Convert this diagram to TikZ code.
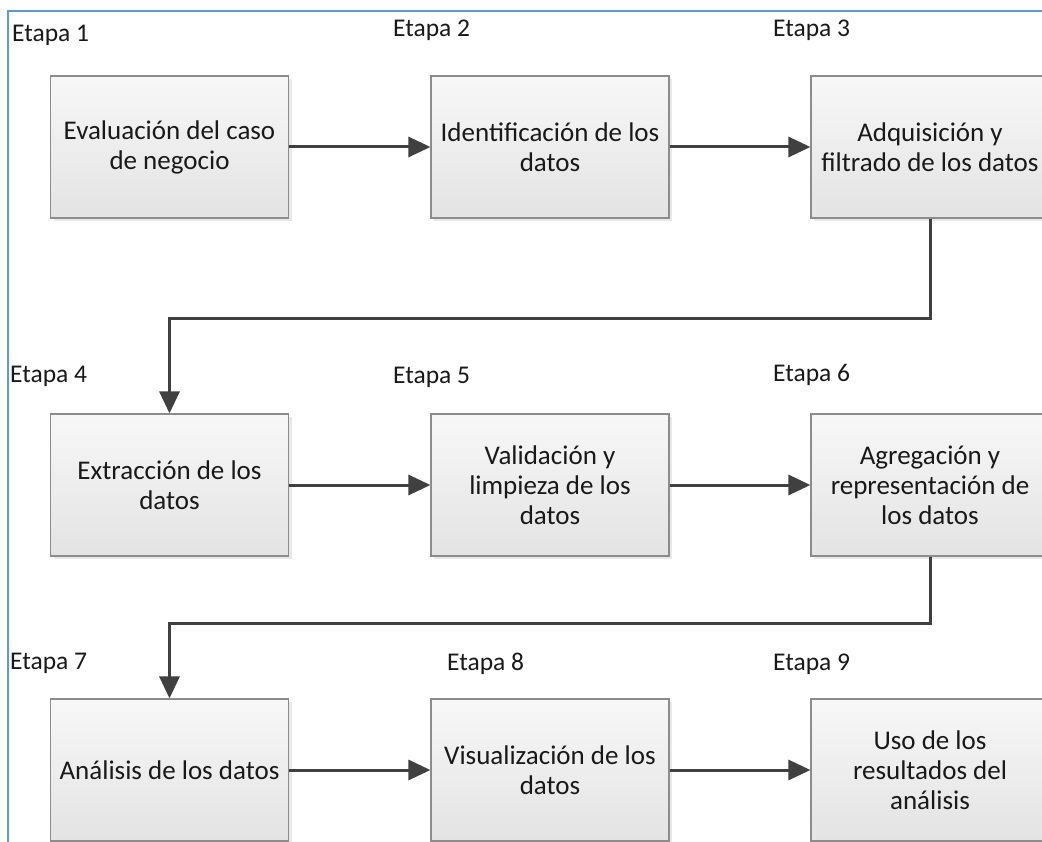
\documentclass[tikz,border=0pt]{standalone}
\usepackage{fontspec}
\setmainfont{Carlito}
\usetikzlibrary{arrows.meta,shadows}
\definecolor{frameblue}{HTML}{5B9BD5}
\definecolor{arrowgray}{HTML}{404040}
\definecolor{boxborder}{HTML}{8C8C8C}
\tikzset{
  stagebox/.style={draw=boxborder, line width=1.2pt, top color=white!97!black, bottom color=white!89!black,
    minimum width=238pt, minimum height=142pt, inner sep=0pt, align=center,
    font=\fontsize{27}{30}\selectfont, text=black!90,
    drop shadow={opacity=0.18, shadow xshift=3pt, shadow yshift=-3pt}},
  stagelabel/.style={anchor=west, inner sep=0pt, font=\fontsize{25.5}{28}\selectfont, text=black!90},
  flow/.style={draw=arrowgray, line width=3pt, -{Triangle[length=22pt,width=20pt]}}
}
\begin{document}
\begin{tikzpicture}[x=1pt,y=-1pt]
\useasboundingbox (0,0) rectangle (1042,842);
\clip (0,0) rectangle (1042,842);
\fill[white] (0,0) rectangle (1042,842);
\draw[frameblue, line width=2.5pt] (8,842) -- (8,11) -- (1042,11);

\node[stagebox] (b1) at (169.5,147) {Evaluación del caso\\de negocio};
\node[stagebox] (b2) at (550,147) {Identificación de los\\datos};
\node[stagebox] (b3) at (930,147) {Adquisición y\\filtrado de los datos};
\node[stagebox] (b4) at (169.5,485) {Extracción de los\\datos};
\node[stagebox] (b5) at (550,485) {Validación y\\limpieza de los\\datos};
\node[stagebox] (b6) at (930,485) {Agregación y\\representación de\\los datos};
\node[stagebox] (b7) at (169.5,770) {Análisis de los datos};
\node[stagebox] (b8) at (550,770) {Visualización de los\\datos};
\node[stagebox] (b9) at (930,770) {Uso de los\\resultados del\\análisis};

\node[stagelabel] (l1) at (12,35) {Etapa 1};
\node[stagelabel] (l2) at (393,30) {Etapa 2};
\node[stagelabel] (l3) at (773,30) {Etapa 3};
\node[stagelabel] (l4) at (10,376) {Etapa 4};
\node[stagelabel] (l5) at (393,377) {Etapa 5};
\node[stagelabel] (l6) at (773,375) {Etapa 6};
\node[stagelabel] (l7) at (10,663) {Etapa 7};
\node[stagelabel] (l8) at (447,664) {Etapa 8};
\node[stagelabel] (l9) at (773,664) {Etapa 9};

\draw[flow] (b1.east) -- (b2.west);
\draw[flow] (b2.east) -- (b3.west);
\draw[flow] (b3.south) -- ++(0,100) -| (b4.north);
\draw[flow] (b4.east) -- (b5.west);
\draw[flow] (b5.east) -- (b6.west);
\draw[flow] (b6.south) -- ++(0,67) -| (b7.north);
\draw[flow] (b7.east) -- (b8.west);
\draw[flow] (b8.east) -- (b9.west);
\end{tikzpicture}
\end{document}
